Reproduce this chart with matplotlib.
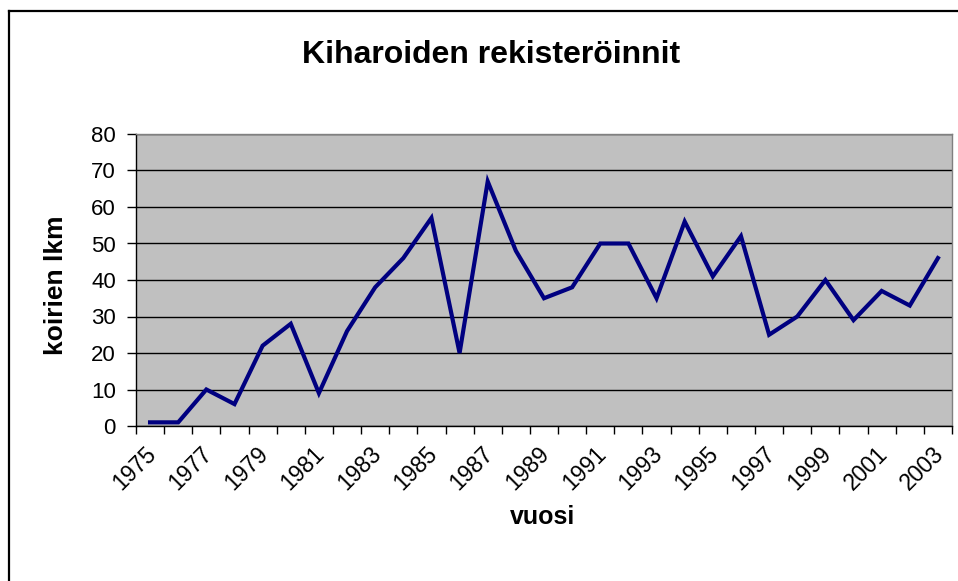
import numpy as np
import matplotlib.pyplot as plt
import matplotlib.transforms as mtransforms
from matplotlib.lines import Line2D

# --- data ---
years = list(range(1975, 2004))
counts = [1, 1, 10, 6, 22, 28, 9, 26, 38, 46, 57, 20, 67, 48, 35,
          38, 50, 50, 35, 56, 41, 52, 25, 30, 40, 29, 37, 33, 46]
y_ticks = list(range(0, 90, 10))

plt.rcParams['font.family'] = ['Liberation Sans', 'DejaVu Sans']

fig = plt.figure(figsize=(9.58, 5.81), dpi=100)
W, H = 958, 581
left, right, top, bottom = 136, 952, 134, 426
ax = fig.add_axes([left / W, (H - bottom) / H, (right - left) / W, (bottom - top) / H])

x = np.arange(len(years))
ax.set_facecolor('#C0C0C0')
ax.plot(x, counts, color='#000080', lw=3, solid_joinstyle='miter', zorder=3)

# y axis
ax.set_ylim(0, 80)
ax.set_yticks(y_ticks)
ax.tick_params(axis='y', direction='out', length=6.5, width=1, labelsize=16, pad=8)
ax.yaxis.grid(True, color='black', lw=1)
ax.set_axisbelow(True)

# x axis: labels at categories, tick marks between categories
ax.set_xlim(-0.5, len(years) - 0.5)
ax.set_xticks(x[::2])
ax.set_xticklabels([str(y) for y in years[::2]], rotation=45,
                   ha='right', va='top', rotation_mode='anchor')
ax.set_xticks(np.arange(-0.5, len(years)), minor=True)
ax.tick_params(axis='x', which='major', length=0, labelsize=16.5, pad=12)
ax.tick_params(axis='x', which='minor', direction='out', length=6, width=1)
shift = mtransforms.ScaledTranslation(-6 / 100, 0, fig.dpi_scale_trans)
for lab in ax.get_xticklabels():
    lab.set_transform(lab.get_transform() + shift)

for side in ['top', 'right']:
    ax.spines[side].set_color('#808080')
    ax.spines[side].set_linewidth(1)
for side in ['left', 'bottom']:
    ax.spines[side].set_color('black')
    ax.spines[side].set_linewidth(1)

fig.text(56 / W, 1 - 285 / H, 'koirien lkm', rotation=90, ha='center', va='center',
         fontsize=19, fontweight='bold')
fig.text(543 / W, 1 - 517 / H, 'vuosi', ha='center', va='center',
         fontsize=18, fontweight='bold')
fig.text(491 / W, 1 - 63 / H, 'Kiharoiden rekisteröinnit', ha='center', va='baseline',
         fontsize=23, fontweight='bold')

# chart border (only top and left edges fall inside the picture)
fig.add_artist(Line2D([9 / W, 9 / W], [0, 1 - 11 / H], transform=fig.transFigure,
                      color='black', lw=1.6))
fig.add_artist(Line2D([9 / W, 1], [1 - 11 / H, 1 - 11 / H], transform=fig.transFigure,
                      color='black', lw=1.6))

fig.savefig('out.png', dpi=100)
